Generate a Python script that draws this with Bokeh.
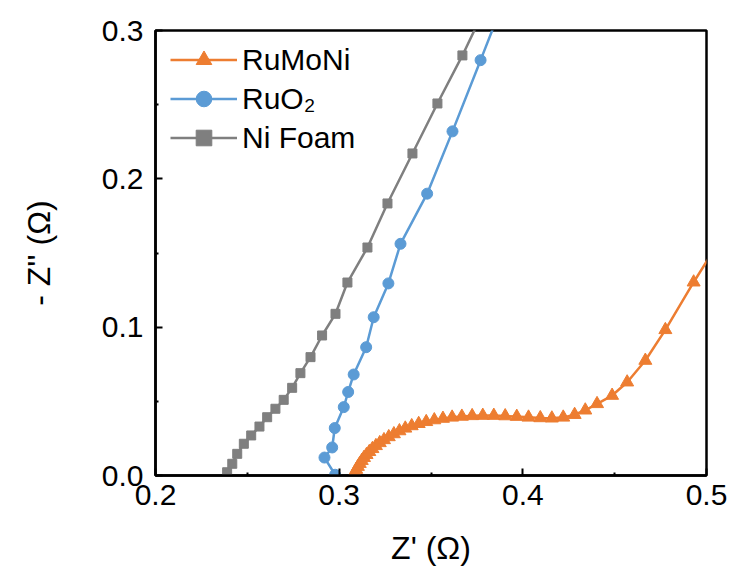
from bokeh.plotting import figure
from bokeh.models import FixedTicker, NumeralTickFormatter, Legend, LegendItem, Range1d
from bokeh.embed import file_html
from bokeh.resources import INLINE

FONT = "Liberation Sans"

# RuMoNi (orange, triangles)
rumoni_x = [0.3078, 0.3085, 0.3093, 0.3102, 0.3112, 0.3123, 0.3135, 0.3149, 0.3164, 0.3181,
            0.3200, 0.3221, 0.3244, 0.3270, 0.3298, 0.3328, 0.3360, 0.3395, 0.3433, 0.3474,
            0.3518, 0.3565, 0.3615, 0.3668, 0.3724, 0.3782, 0.3842, 0.3904, 0.3967, 0.4031,
            0.4095, 0.4158, 0.4220, 0.4282, 0.4340, 0.4404, 0.4486, 0.4568, 0.4667, 0.4776,
            0.4930, 0.5060]
rumoni_y = [0.000, 0.002, 0.004, 0.006, 0.008, 0.010, 0.012, 0.014, 0.016, 0.018,
            0.020, 0.022, 0.024, 0.026, 0.028, 0.030, 0.0318, 0.0334, 0.0349, 0.0362,
            0.0374, 0.0384, 0.0392, 0.0398, 0.0402, 0.0404, 0.0404, 0.0401, 0.0397, 0.0392,
            0.0388, 0.0386, 0.0392, 0.0410, 0.0440, 0.0483, 0.0539, 0.0629, 0.0775, 0.0982,
            0.1303, 0.1560]

# RuO2 (blue, circles)
ruo2_x = [0.2978, 0.2920, 0.2962, 0.2976, 0.3025, 0.3049, 0.3079, 0.3147, 0.3188,
          0.3268, 0.3334, 0.3479, 0.3617, 0.3770, 0.3890]
ruo2_y = [0.0005, 0.0121, 0.0189, 0.0320, 0.0461, 0.0563, 0.0681, 0.0865, 0.1067,
          0.1295, 0.1562, 0.1900, 0.2320, 0.2800, 0.3180]

# Ni Foam (gray, squares)
nifoam_x = [0.2390, 0.2418, 0.2445, 0.2481, 0.2521, 0.2566, 0.2608, 0.2653, 0.2698, 0.2744,
            0.2789, 0.2844, 0.2907, 0.2980, 0.3045, 0.3154, 0.3263, 0.3399, 0.3535, 0.3671,
            0.3790]
nifoam_y = [0.0022, 0.0079, 0.0146, 0.0214, 0.0270, 0.0330, 0.0393, 0.0450, 0.0510, 0.0591,
            0.0690, 0.0798, 0.0944, 0.1090, 0.1301, 0.1537, 0.1834, 0.2171, 0.2508, 0.2832,
            0.3140]

labels = ["RuMoNi", "RuO\u2082", "Ni Foam"]
colors = ["#ED7D31", "#5B9BD5", "#7F7F7F"]

x_ticks = [0.2, 0.3, 0.4, 0.5]
y_ticks = [0.0, 0.1, 0.2, 0.3]

p = figure(width=732, height=572, output_backend="svg", toolbar_location=None,
           x_range=Range1d(0.2, 0.5), y_range=Range1d(0.0, 0.3),
           min_border_left=155, min_border_right=26, min_border_top=30, min_border_bottom=97)
p.background_fill_color = "white"
p.border_fill_color = "white"
p.grid.visible = False
p.outline_line_color = "black"
p.outline_line_width = 2.5
p.outline_line_alpha = 1

l1 = p.line(rumoni_x, rumoni_y, line_color=colors[0], line_width=2.5)
s1 = p.scatter(rumoni_x, rumoni_y, marker="triangle", size=13, fill_color=colors[0], line_color=colors[0])
l2 = p.line(ruo2_x, ruo2_y, line_color=colors[1], line_width=2.5)
s2 = p.scatter(ruo2_x, ruo2_y, marker="circle", size=11, fill_color=colors[1], line_color=colors[1])
l3 = p.line(nifoam_x, nifoam_y, line_color=colors[2], line_width=2.5)
s3 = p.scatter(nifoam_x, nifoam_y, marker="square", size=9, fill_color=colors[2], line_color=colors[2])

p.xaxis.ticker = FixedTicker(ticks=x_ticks, minor_ticks=[0.25, 0.35, 0.45])
p.yaxis.ticker = FixedTicker(ticks=y_ticks, minor_ticks=[0.05, 0.15, 0.25])
p.xaxis.formatter = NumeralTickFormatter(format="0.0")
p.yaxis.formatter = NumeralTickFormatter(format="0.0")

for ax in (p.xaxis[0], p.yaxis[0]):
    ax.axis_line_color = "black"
    ax.axis_line_width = 2.5
    ax.major_tick_line_color = "black"
    ax.minor_tick_line_color = "black"
    ax.major_tick_line_width = 2
    ax.minor_tick_line_width = 2
    ax.major_tick_in = 7
    ax.major_tick_out = 0
    ax.minor_tick_in = 3
    ax.minor_tick_out = 0
    ax.major_label_text_font = FONT
    ax.major_label_text_font_size = "30px"
    ax.major_label_text_color = "black"
    ax.axis_label_text_font = FONT
    ax.axis_label_text_font_size = "32px"
    ax.axis_label_text_font_style = "normal"
    ax.axis_label_text_color = "black"

p.xaxis.axis_label = "Z' (\u03a9)"
p.yaxis.axis_label = "- Z'' (\u03a9)"
p.xaxis.major_label_standoff = 9
p.yaxis.major_label_standoff = 12
p.xaxis.axis_label_standoff = 22
p.yaxis.axis_label_standoff = 42

legend = Legend(items=[LegendItem(label=labels[0], renderers=[l1, s1]),
                       LegendItem(label=labels[1], renderers=[l2, s2]),
                       LegendItem(label=labels[2], renderers=[l3, s3])],
                location=(15, 318))
legend.border_line_color = None
legend.background_fill_alpha = 0
legend.label_text_font = FONT
legend.label_text_font_size = "30px"
legend.label_text_color = "black"
legend.glyph_width = 67
legend.glyph_height = 39
legend.label_height = 39
legend.label_standoff = 5
legend.spacing = 0
legend.padding = 5
legend.margin = 0
p.add_layout(legend)

open("out.html", "w").write(file_html(p, INLINE))
